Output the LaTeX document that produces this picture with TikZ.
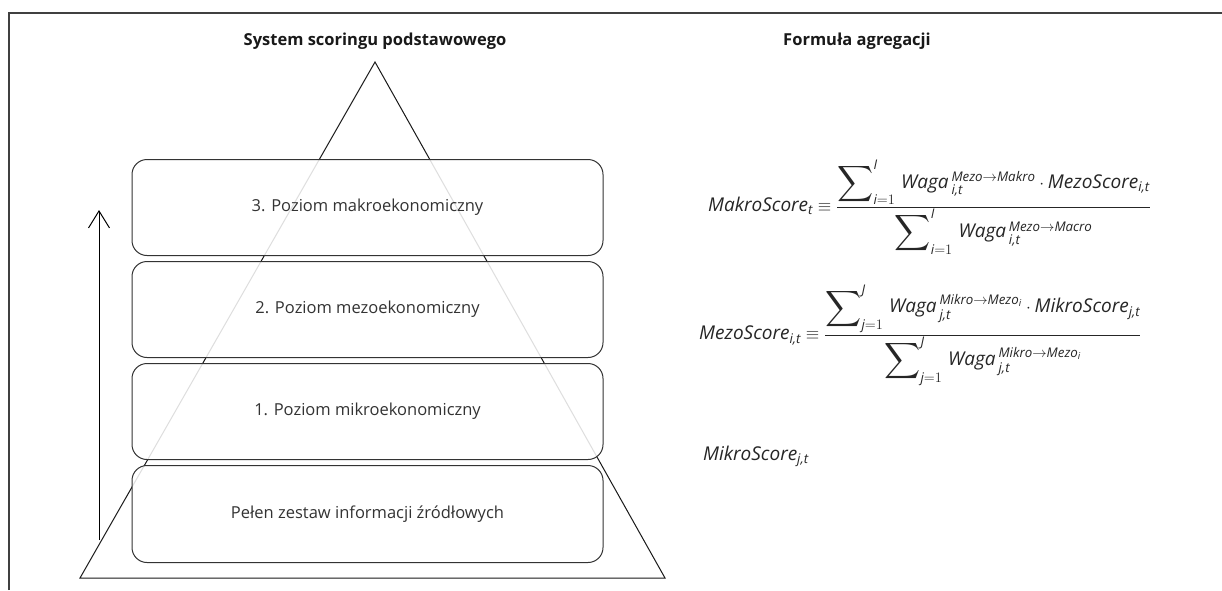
\documentclass[tikz,border=0pt]{standalone}
\usepackage{amsmath}
\usepackage{graphicx}
\usepackage{fontspec}
\setmainfont{Open Sans}
\usetikzlibrary{arrows.meta}
\newcommand\vr[1]{\text{\itshape #1}}
% enlarged summation sign, centred on the math axis
\newcommand\bigsum{\mathop{\vcenter{\hbox{\scalebox{1.45}{$\displaystyle\sum$}}}}\nolimits}
\begin{document}
\begin{tikzpicture}[x=1pt,y=-1pt,
  frameline/.style={draw=black!75,line width=1.3pt},
  pyramid/.style={draw=black!90,line width=1pt,line join=miter},
  level/.style={draw=black!80,line width=1pt,rounded corners=15pt,fill=white,fill opacity=0.86,text opacity=1,
    minimum width=471pt,minimum height=96pt,inner sep=0pt,font=\fontsize{16.5}{19}\selectfont,text=black!80},
  heading/.style={font=\fontsize{16.5}{19}\selectfont\bfseries,text=black!90},
  formula/.style={anchor=west,inner sep=0pt,font=\fontsize{19}{23}\selectfont,text=black!85}]
\useasboundingbox (0,0) rectangle (1222,590);
\fill[white] (0,0) rectangle (1222,590);
% outer frame: top and left edges
\coordinate (fbl) at (9,590);
\coordinate (ftr) at (1222,13);
\draw[frameline] (fbl) |- (ftr);
% headings
\node[heading] (t1) at (375,41) {System scoringu podstawowego};
\node[heading] (t2) at (857,41) {Formuła agregacji};
% pyramid
\coordinate (apex) at (375,62);
\coordinate (bl) at (80,578);
\coordinate (br) at (665,578);
\draw[pyramid] (apex) -- (br) -- (bl) -- cycle;
% levels
\node[level] (l3) at (367.5,207.5) {3. Poziom makroekonomiczny};
\node[level] (l2) at (367.5,309.5) {2. Poziom mezoekonomiczny};
\node[level] (l1) at (367.5,411.5) {1. Poziom mikroekonomiczny};
\node[level,minimum height=97pt] (l0) at (367.5,514) {Pełen zestaw informacji źródłowych};
% upward arrow
\coordinate (aS) at (99,540);
\coordinate (aE) at (99,210);
\draw[line width=1pt,-{Straight Barb[length=17pt,width=21pt,line width=1pt]}] (aS) -- (aE);
% formulas
\node[formula] (fmakro) at (708,207) {$\vr{MakroScore}_{\vr{t}}\equiv
  \dfrac{\bigsum_{\vr{i}=1}^{\vr{I}}\,\vr{Waga}\,{}_{\vr{i,t}}^{\vr{Mezo}\rightarrow\vr{Makro}}\cdot\vr{MezoScore}_{\vr{i,t}}}
        {\bigsum_{\vr{i}=1}^{\vr{I}}\,\vr{Waga}\,{}_{\vr{i,t}}^{\vr{Mezo}\rightarrow\vr{Macro}}}$};
\node[formula] (fmezo) at (699,335) {$\vr{MezoScore}_{\vr{i,t}}\equiv
  \dfrac{\bigsum_{\vr{j}=1}^{\vr{J}}\,\vr{Waga}\,{}_{\vr{j,t}}^{\vr{Mikro}\rightarrow\vr{Mezo}_{\vr{i}}}\cdot\vr{MikroScore}_{\vr{j,t}}}
        {\bigsum_{\vr{j}=1}^{\vr{J}}\,\vr{Waga}\,{}_{\vr{j,t}}^{\vr{Mikro}\rightarrow\vr{Mezo}_{\vr{i}}}}$};
\node[formula,anchor=base west] (fmikro) at (703,460) {$\vr{MikroScore}_{\vr{j,t}}$};
\end{tikzpicture}
\end{document}
